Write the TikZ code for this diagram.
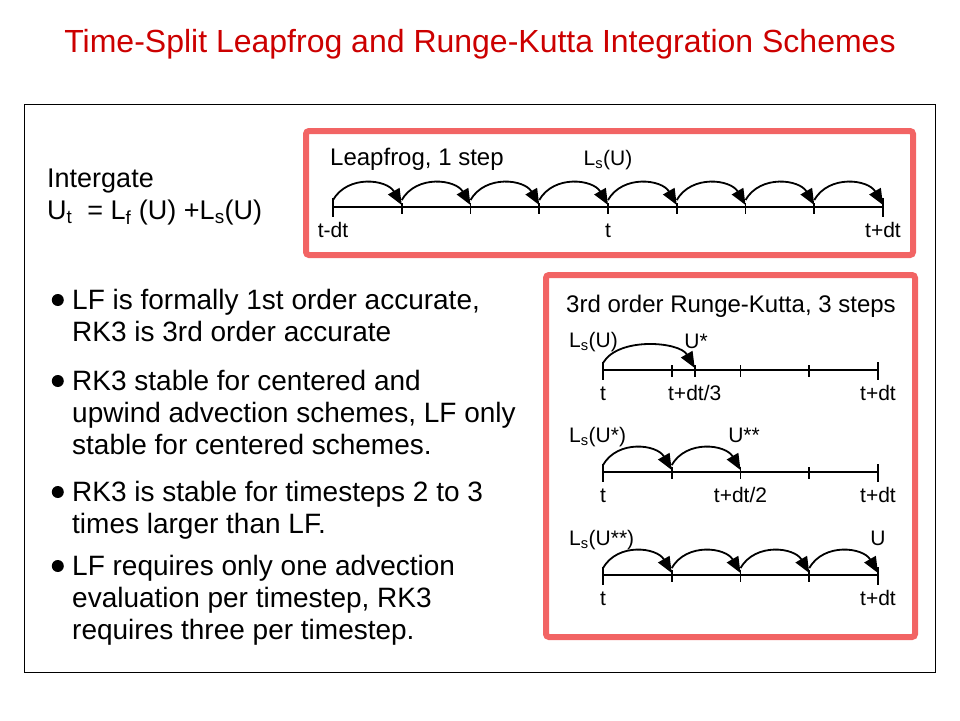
\documentclass[tikz,border=0pt]{standalone}
\usepackage{fontspec}
\setmainfont{Liberation Sans}
\usetikzlibrary{positioning,arrows.meta}
\definecolor{boxred}{RGB}{242,100,100}
\definecolor{titlered}{RGB}{204,0,0}
\tikzset{
  title/.style={font=\fontsize{32}{38}\selectfont, text=titlered},
  frame/.style={draw=boxred, line width=6pt, rounded corners=3pt},
  axis/.style={line width=1.8pt},
  hop/.style={line width=1.8pt, -{Triangle[length=16pt,width=13pt]}, out=60, in=120, looseness=1.1},
  lbl/.style={font=\fontsize{21}{24}\selectfont, inner sep=1pt, text height=15pt, text depth=4pt},
  head/.style={font=\fontsize{24}{28}\selectfont, anchor=west, inner sep=0pt},
  txt/.style={font=\fontsize{28}{32}\selectfont, align=left, anchor=north west, inner sep=0pt},
  dot/.style={circle, fill=black, inner sep=0pt, minimum size=12pt},
  node distance=14pt
}

\begin{document}
\begin{tikzpicture}[x=1pt,y=-1pt]
	\useasboundingbox (0,0) rectangle (960,720);
	\node[title] (ttl) at (480,44) {Time-Split Leapfrog and Runge-Kutta Integration Schemes};
	\draw[line width=1pt] (24,104) rectangle (935,672);
	%
	\node[txt, font=\fontsize{27}{32}\selectfont] (intg) at (47,169) {Intergate\\U\textsubscript{t} \ = L\textsubscript{f} (U) +L\textsubscript{s}(U)};
	\node[txt] (b1) at (72,289) {LF is formally 1st order accurate,\\RK3 is 3rd order accurate};
	\node[txt] (b2) at (72,370) {RK3 stable for centered and\\upwind advection schemes, LF only\\stable for centered schemes.};
	\node[txt] (b3) at (72,481) {RK3 is stable for timesteps 2 to 3\\times larger than LF.};
	\node[txt] (b4) at (72,555) {LF requires only one advection\\evaluation per timestep, RK3\\requires three per timestep.};
	\foreach \b in {b1,b2,b3,b4}
		\node[dot, left=8pt of \b.north west, yshift=-11pt] {};
	%
	% leapfrog
	\draw[frame] (306,131) rectangle (913,255);
	\node[head] (lfhead) at (330,159) {Leapfrog, 1 step};
	\foreach \i in {0,...,8}
		\coordinate (lf\i) at (333+68.75*\i,207);
	\draw[axis] (lf0) -- (lf8);
	\foreach \i in {1,...,7}
		\draw[axis] ([yshift=4pt]lf\i) -- ([yshift=-7pt]lf\i);
	\draw[axis] ([yshift=9pt]lf0) -- ([yshift=-10pt]lf0) ([yshift=9pt]lf8) -- ([yshift=-10pt]lf8);
	\foreach \i [count=\j] in {0,...,7}
		\draw[hop] ([yshift=7pt]lf\i) to ([yshift=2pt]lf\j);
	\node[lbl] (lfls) at (608,160) {L\textsubscript{s}(U)};
	\node[lbl, below=of lf0] {t-dt};
	\node[lbl, below=of lf4] {t};
	\node[lbl, below=of lf8] {t+dt};
	%
	% runge-kutta
	\draw[frame] (546,275) rectangle (915,637);
	\node[head, anchor=center] (rkhead) at (731,306) {3rd order Runge-Kutta, 3 steps};
	\foreach \r/\y in {1/370,2/472,3/575} {
		\foreach \i in {0,...,4}
			\coordinate (r\r-\i) at (603+68.75*\i,\y);
		\draw[axis] (r\r-0) -- (r\r-4);
		\foreach \i in {1,2,3}
			\draw[axis] ([yshift=5pt]r\r-\i) -- ([yshift=-7pt]r\r-\i);
		\draw[axis] ([yshift=8pt]r\r-0) -- ([yshift=-10pt]r\r-0) ([yshift=8pt]r\r-4) -- ([yshift=-10pt]r\r-4);
		\node[lbl, below=of r\r-0] {t};
		\node[lbl, below=of r\r-4] {t+dt};
	}
	\coordinate (third) at (694.7,370);
	\draw[axis] ([yshift=5pt]third) -- ([yshift=-7pt]third);
	\draw[hop, looseness=0.85] ([yshift=7pt]r1-0) to ([yshift=2pt]third);
	\node[lbl, below=of third] {t+dt/3};
	\node[lbl, anchor=west] (ls1) at (568,342) {L\textsubscript{s}(U)};
	\node[lbl] (u1) at (696,343) {U*};
	%
	\foreach \i [count=\j] in {0,1}
		\draw[hop] ([yshift=7pt]r2-\i) to ([yshift=2pt]r2-\j);
	\node[lbl, below=of r2-2] {t+dt/2};
	\node[lbl, anchor=west] (ls2) at (568,437) {L\textsubscript{s}(U*)};
	\node[lbl] (u2) at (744,437) {U**};
	%
	\foreach \i [count=\j] in {0,...,3}
		\draw[hop] ([yshift=7pt]r3-\i) to ([yshift=2pt]r3-\j);
	\node[lbl, anchor=west] (ls3) at (568,540) {L\textsubscript{s}(U**)};
	\node[lbl] (u3) at (878,540) {U};
\end{tikzpicture}
\end{document}
